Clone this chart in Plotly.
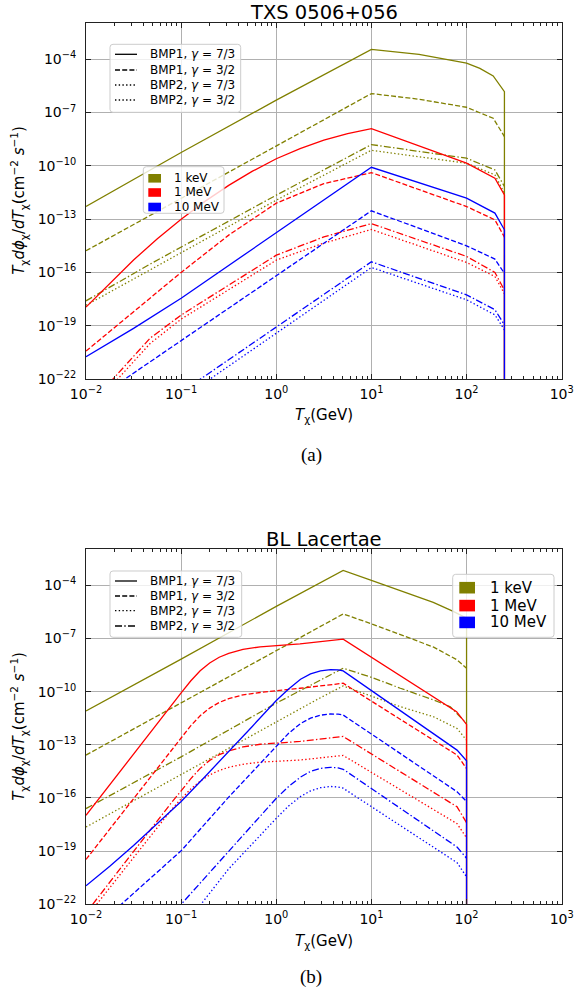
import numpy as np
import plotly.graph_objects as go

# ---------------------------------------------------------------------------
# Boosted dark-matter flux T dphi/dT  (log10 of T in GeV, log10 of flux)
# ---------------------------------------------------------------------------
# TXS 0506+056  (cut-off at T ~ 250 GeV)
txs_kev_bmp1_73 = [(-2, -12.29), (-1, -9.25), (0, -6.3), (1, -3.44), (1.5, -3.72),
                   (2, -4.22), (2.14, -4.51), (2.28, -4.94), (2.398, -5.82)]
txs_kev_bmp1_32 = [(-2, -14.78), (1, -5.93), (1.5, -6.25), (2, -6.70), (2.28, -7.32), (2.398, -8.35)]
txs_kev_bmp2_73 = [(-2, -17.85), (-1.326, -15.87), (0, -11.93), (1, -9.12), (2, -9.85),
                   (2.298, -10.51), (2.398, -11.54)]
txs_kev_bmp2_32 = [(-2, -17.6), (-1.326, -15.53), (0, -11.65), (1, -8.80), (2, -9.57),
                   (2.298, -10.23), (2.398, -11.16)]

txs_mev_bmp1_73 = [(-2, -17.95), (-1.75, -16.6), (-1.5, -15.3), (-1.25, -14.1), (-1, -13.0),
                   (-0.75, -12.0), (-0.5, -11.1), (-0.25, -10.3), (0, -9.6), (0.25, -9.03),
                   (0.5, -8.55), (0.75, -8.18), (1, -7.9), (2, -9.85), (2.298, -10.69), (2.398, -11.63)]
txs_mev_bmp1_32 = [(-2, -20.43), (-1.5, -18.2), (-1, -16.0), (-0.5, -13.9), (0, -12.1), (0.5, -11.0),
                   (1, -10.38), (2, -12.29), (2.298, -13.04), (2.398, -14.01)]
txs_mev_bmp2_73 = [(-1.7, -22.2), (-1.326, -20.0), (-1, -18.63), (0, -15.31), (0.5, -14.35),
                   (1, -13.58), (2, -15.44), (2.298, -16.23), (2.398, -17.2)]
txs_mev_bmp2_32 = [(-1.75, -22.2), (-1.326, -19.7), (-1, -18.4), (0, -15.03), (0.5, -14.0),
                   (1, -13.25), (2, -15.10), (2.298, -16.0), (2.398, -17.0)]

txs_10mev_bmp1_73 = [(-2, -20.75), (-1.5, -19.15), (-1, -17.45), (0, -13.75), (1, -10.08),
                     (2, -11.82), (2.298, -12.66), (2.398, -13.6)]
txs_10mev_bmp1_32 = [(-1.7, -22.4), (1, -12.53), (2, -14.5), (2.298, -15.25), (2.398, -16.05)]
txs_10mev_bmp2_73 = [(-0.75, -22.2), (1, -15.72), (2, -17.54), (2.298, -18.39), (2.398, -19.23)]
txs_10mev_bmp2_32 = [(-0.85, -22.2), (1, -15.40), (2, -17.26), (2.298, -18.1), (2.398, -18.95)]

# BL Lacertae  (cut-off at T = 100 GeV)
bll_kev_bmp1_73 = [(-2, -11.09), (-1, -8.17), (0, -5.19), (0.703, -3.16), (1, -3.72), (1.3, -4.28),
                   (1.65, -4.96), (1.86, -5.47), (2, -5.85)]
bll_kev_bmp1_32 = [(-2, -13.58), (0.42, -6.42), (0.703, -5.62), (1, -6.17), (1.304, -6.79),
                   (1.654, -7.49), (1.9, -8.21), (2, -8.68)]
bll_kev_bmp2_73 = [(-2, -17.64), (0.42, -10.47), (0.703, -9.68), (1, -10.28), (1.304, -10.85),
                   (1.654, -11.42), (1.9, -12.08), (2, -12.74)]
bll_kev_bmp2_32 = [(-2, -16.6), (-1, -13.68), (0, -10.65), (0.703, -8.68), (1, -9.19), (1.304, -9.81),
                   (1.654, -10.47), (1.829, -10.85), (2, -11.79)]

bll_mev_bmp1_73 = [(-2, -16.98), (-1.5, -13.5), (-1.1, -10.75), (-1, -10.07), (-0.9, -9.4),
                   (-0.8, -8.82), (-0.7, -8.38), (-0.6, -8.06), (-0.5, -7.84), (-0.35, -7.62),
                   (-0.17, -7.47), (0.25, -7.31), (0.703, -7.04), (1, -8.06), (1.895, -11.13),
                   (2, -11.85)]
bll_mev_bmp1_32 = [(-2, -19.47), (-1.5, -16.02), (-1.1, -13.28), (-1, -12.6), (-0.9, -11.93),
                   (-0.8, -11.36), (-0.7, -10.93), (-0.6, -10.61), (-0.5, -10.4), (-0.35, -10.18),
                   (-0.17, -10.05), (0.25, -9.81), (0.703, -9.53), (1.9, -13.58), (2, -14.34)]
bll_mev_bmp2_73 = [(-1.888, -22.0), (-1.5, -19.35), (-1.1, -16.65), (-1, -16.05), (-0.9, -15.5),
                   (-0.8, -15.05), (-0.7, -14.7), (-0.6, -14.45), (-0.5, -14.27), (-0.35, -14.1),
                   (-0.17, -13.98), (0.25, -13.86), (0.703, -13.6), (1.9, -17.45), (2, -18.25)]
bll_mev_bmp2_32 = [(-1.93, -22.0), (-1.5, -19.0), (-1.1, -16.25), (-1, -15.6), (-0.9, -14.92),
                   (-0.8, -14.33), (-0.7, -13.88), (-0.6, -13.56), (-0.5, -13.35), (-0.35, -13.12),
                   (-0.17, -12.97), (0.25, -12.81), (0.703, -12.53), (1.9, -16.5), (2, -17.4)]

bll_10mev_bmp1_73 = [(-2, -20.96), (-1.75, -19.85), (-1.5, -18.68), (-1.25, -17.45), (-1, -16.2),
                     (-0.75, -14.8), (-0.5, -13.4), (-0.25, -11.95), (0, -10.5), (0.13, -9.85),
                     (0.255, -9.3), (0.36, -9.0), (0.465, -8.83), (0.57, -8.76), (0.65, -8.77),
                     (0.703, -8.83), (1.9, -13.3), (2, -13.9)]
bll_10mev_bmp1_32 = [(-1.65, -22.1), (-1, -18.98), (-0.5, -15.95), (0, -13.05), (0.13, -12.35),
                     (0.255, -11.8), (0.36, -11.5), (0.465, -11.33), (0.57, -11.26), (0.65, -11.27),
                     (0.703, -11.32), (1.9, -15.65), (2, -16.2)]
bll_10mev_bmp2_73 = [(-0.85, -22.4), (-0.5, -20.0), (0, -17.15), (0.13, -16.45), (0.255, -15.92),
                     (0.36, -15.6), (0.465, -15.42), (0.57, -15.35), (0.65, -15.38), (0.703, -15.45),
                     (1.9, -19.65), (2, -20.45)]
bll_10mev_bmp2_32 = [(-1.05, -22.3), (-0.5, -19.0), (0, -16.02), (0.13, -15.35), (0.255, -14.82),
                     (0.36, -14.5), (0.465, -14.33), (0.57, -14.27), (0.65, -14.3), (0.703, -14.38),
                     (1.9, -18.77), (2, -19.4)]

# tick labels
x_tick_exp = [-2, -1, 0, 1, 2, 3]
y_tick_exp = [-22, -19, -16, -13, -10, -7, -4]
style_labels = ["BMP1, <i>γ</i> = 7/3", "BMP1, <i>γ</i> = 3/2",
                "BMP2, <i>γ</i> = 7/3", "BMP2, <i>γ</i> = 3/2"]
mass_labels = ["1 keV", "1 MeV", "10 MeV"]
titles = ["TXS 0506+056", "BL Lacertae"]
captions = ["(a)", "(b)"]

# ---------------------------------------------------------------------------
OLIVE, RED, BLUE = "#808000", "#ff0000", "#0000ff"
DASH = {"solid": "solid", "dashed": "5px,2.2px", "dotted": "1.4px,2.3px",
        "dashdot": "7px,2.3px,1.4px,2.3px"}
W, H = 575, 996
FONT = "DejaVu Sans"


def fx(p):
    return p / W


def fy(p):
    return 1 - p / H


curves_txs = [
    (txs_kev_bmp1_73, OLIVE, "solid"), (txs_kev_bmp1_32, OLIVE, "dashed"),
    (txs_kev_bmp2_73, OLIVE, "dotted"), (txs_kev_bmp2_32, OLIVE, "dashdot"),
    (txs_mev_bmp1_73, RED, "solid"), (txs_mev_bmp1_32, RED, "dashed"),
    (txs_mev_bmp2_73, RED, "dotted"), (txs_mev_bmp2_32, RED, "dashdot"),
    (txs_10mev_bmp1_73, BLUE, "solid"), (txs_10mev_bmp1_32, BLUE, "dashed"),
    (txs_10mev_bmp2_73, BLUE, "dotted"), (txs_10mev_bmp2_32, BLUE, "dashdot"),
]
curves_bll = [
    (bll_kev_bmp1_73, OLIVE, "solid"), (bll_kev_bmp1_32, OLIVE, "dashed"),
    (bll_kev_bmp2_73, OLIVE, "dotted"), (bll_kev_bmp2_32, OLIVE, "dashdot"),
    (bll_mev_bmp1_73, RED, "solid"), (bll_mev_bmp1_32, RED, "dashed"),
    (bll_mev_bmp2_73, RED, "dotted"), (bll_mev_bmp2_32, RED, "dashdot"),
    (bll_10mev_bmp1_73, BLUE, "solid"), (bll_10mev_bmp1_32, BLUE, "dashed"),
    (bll_10mev_bmp2_73, BLUE, "dotted"), (bll_10mev_bmp2_32, BLUE, "dashdot"),
]

fig = go.Figure()


def add_curves(curves, xa, ya):
    for pts, color, style in curves:
        lt = [p[0] for p in pts]
        lf = [p[1] for p in pts]
        if style == "solid":
            # flux vanishes above the kinematic cut-off
            lt.append(lt[-1])
            lf.append(-30)
        fig.add_trace(go.Scatter(
            x=10 ** np.array(lt, dtype=float), y=10 ** np.array(lf, dtype=float),
            mode="lines", line=dict(color=color, width=1.3, dash=DASH[style]),
            xaxis=xa, yaxis=ya, showlegend=False, hoverinfo="skip"))


add_curves(curves_txs, "x", "y")
add_curves(curves_bll, "x2", "y2")

# panel geometry in pixels: (left, top, right, bottom)
panels = [(86, 22.7, 561.7, 379.0), (86, 549.3, 561.7, 904.3)]
y_tops = [-1.94, -1.97]

minor_vals = [m * 10.0 ** e for e in range(-2, 3) for m in range(2, 10)]

axis_common = dict(
    showline=True, linecolor="#222", linewidth=1, mirror="ticks",
    ticks="inside", ticklen=5, tickwidth=1, tickcolor="#222",
    showgrid=True, gridcolor="#b0b0b0", gridwidth=1, zeroline=False,
    automargin=False,
    tickfont=dict(family=FONT, size=14, color="black"),
)

layout_axes = {}
for i, (l, t, r, b) in enumerate(panels):
    sfx = "" if i == 0 else "2"
    layout_axes["xaxis" + sfx] = dict(
        axis_common, type="log", range=[-2, 3], domain=[fx(l), fx(r)],
        anchor="y" + sfx, tickmode="array",
        tickvals=[10.0 ** e for e in x_tick_exp],
        ticktext=[f"10<sup>{str(e).replace('-', '−')}</sup>" for e in x_tick_exp],
        ticklabelstandoff=2,
        minor=dict(tickmode="array", tickvals=minor_vals, ticks="inside",
                   ticklen=3, tickwidth=0.8, tickcolor="#222", showgrid=False),
    )
    layout_axes["yaxis" + sfx] = dict(
        axis_common, type="log", range=[-22, y_tops[i]], domain=[fy(b), fy(t)],
        anchor="x" + sfx, tickmode="array",
        tickvals=[10.0 ** e for e in y_tick_exp],
        ticktext=[f"10<sup>{str(e).replace('-', '−')}</sup>" for e in y_tick_exp],
        ticklabelstandoff=6,
    )

shapes = []
annotations = []


def box(x0, y0, x1, y1, r=3.0):
    # rounded legend frame, given in pixels
    X = lambda v: f"{fx(v):.5f}"
    Y = lambda v: f"{fy(v):.5f}"
    path = (f"M {X(x0 + r)},{Y(y0)} L {X(x1 - r)},{Y(y0)} Q {X(x1)},{Y(y0)} {X(x1)},{Y(y0 + r)} "
            f"L {X(x1)},{Y(y1 - r)} Q {X(x1)},{Y(y1)} {X(x1 - r)},{Y(y1)} "
            f"L {X(x0 + r)},{Y(y1)} Q {X(x0)},{Y(y1)} {X(x0)},{Y(y1 - r)} "
            f"L {X(x0)},{Y(y0 + r)} Q {X(x0)},{Y(y0)} {X(x0 + r)},{Y(y0)} Z")
    shapes.append(dict(type="path", path=path, xref="paper", yref="paper",
                       fillcolor="rgba(255,255,255,0.8)",
                       line=dict(color="#cccccc", width=1), layer="above"))


def text(x, y, s, size, xanchor="left", family=FONT, angle=0):
    annotations.append(dict(x=fx(x), y=fy(y), xref="paper", yref="paper", text=s,
                            showarrow=False, xanchor=xanchor, yanchor="middle",
                            textangle=angle,
                            font=dict(family=family, size=size, color="black")))


# line-style legends (the first panel repeats the dotted sample)
style_samples = [["solid", "dashed", "dotted", "dotted"],
                 ["solid", "dashed", "dotted", "dashdot"]]
style_boxes = [(110, 44.3, 240.7, 112.3), (110, 571.0, 241.7, 637.3)]
style_rows = [[54.3, 70.0, 85.0, 100.0], [581.0, 596.0, 610.7, 626.0]]
for k in range(2):
    box(*style_boxes[k])
    for lab, sty, yy in zip(style_labels, style_samples[k], style_rows[k]):
        shapes.append(dict(type="line", xref="paper", yref="paper",
                           x0=fx(115), x1=fx(137), y0=fy(yy), y1=fy(yy),
                           line=dict(color="black", width=1.3, dash=DASH[sty]),
                           layer="above"))
        text(148, yy, lab, 12)

# mass legends
mass_boxes = [(143.3, 166.7, 224.0, 213.3), (452.7, 574.3, 554.0, 637.3)]
mass_rows = [[178.3, 192.5, 207.0], [587.7, 605.6, 622.4]]
patch_x = [(148.3, 161.0), (459.3, 475.0)]
patch_h = [8.6, 11.6]
mass_text_x = [171.7, 488.3]
mass_size = [12, 15]
for k in range(2):
    box(*mass_boxes[k])
    for lab, col, yy in zip(mass_labels, [OLIVE, RED, BLUE], mass_rows[k]):
        shapes.append(dict(type="rect", xref="paper", yref="paper",
                           x0=fx(patch_x[k][0]), x1=fx(patch_x[k][1]),
                           y0=fy(yy - patch_h[k] / 2), y1=fy(yy + patch_h[k] / 2),
                           fillcolor=col, line=dict(width=0), layer="above"))
        text(mass_text_x[k], yy, lab, mass_size[k])

# titles, axis labels, captions
ylab = ("<i>T</i><sub>χ</sub><i>dϕ</i><sub>χ</sub>/<i>dT</i><sub>χ</sub>"
        "(cm<sup>−2</sup> <i>s</i><sup>−1</sup>)")
xlab = "<i>T</i><sub>χ</sub>(GeV)"
title_y = [12.0, 539.0]
xlab_y = [415.0, 941.0]
cap_y = [455.0, 977.0]
for k, (l, t, r, b) in enumerate(panels):
    cx = (l + r) / 2
    text(cx, title_y[k], titles[k], 19.5, xanchor="center")
    text(cx, xlab_y[k], xlab, 15, xanchor="center")
    text(19, (t + b) / 2, ylab, 15, xanchor="center", angle=-90)
    text(311, cap_y[k], captions[k], 19, xanchor="center", family="Liberation Serif")

fig.update_layout(
    width=W, height=H, margin=dict(l=0, r=0, t=0, b=0, autoexpand=False),
    paper_bgcolor="white", plot_bgcolor="white", showlegend=False,
    shapes=shapes, annotations=annotations, **layout_axes,
)

fig.write_html("out.html")
